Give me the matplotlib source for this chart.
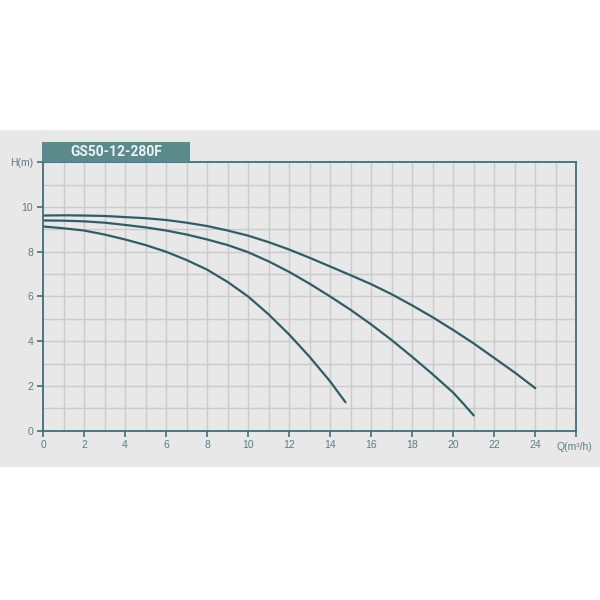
import matplotlib
matplotlib.use('agg')
import matplotlib.pyplot as plt
from matplotlib.patches import Rectangle

# 读图得到的曲线数据 Q(m3/h) - H(m)
q_top = [0, 1, 2, 3, 4, 5, 6, 7, 8, 9, 10, 11, 12, 13, 14, 15, 16, 17, 18, 19, 20, 21, 22, 23, 24]
h_top = [9.62, 9.63, 9.62, 9.6, 9.55, 9.5, 9.42, 9.3, 9.15, 8.95, 8.72, 8.43, 8.1, 7.73, 7.34,
         6.95, 6.55, 6.1, 5.6, 5.07, 4.5, 3.9, 3.25, 2.6, 1.9]

q_mid = [0, 1, 2, 3, 4, 5, 6, 7, 8, 9, 10, 11, 12, 13, 14, 15, 16, 17, 18, 19, 20, 20.5, 21]
h_mid = [9.40, 9.39, 9.36, 9.3, 9.2, 9.09, 8.95, 8.77, 8.55, 8.3, 7.98, 7.57, 7.1, 6.57, 6.0,
         5.4, 4.75, 4.05, 3.3, 2.52, 1.7, 1.2, 0.68]

q_low = [0, 1, 2, 3, 4, 5, 6, 7, 8, 9, 10, 11, 12, 13, 14, 14.4, 14.75]
h_low = [9.13, 9.05, 8.95, 8.77, 8.55, 8.3, 8.0, 7.63, 7.2, 6.65, 6.0, 5.2, 4.3, 3.3, 2.2, 1.7, 1.27]

x_ticks = [0, 2, 4, 6, 8, 10, 12, 14, 16, 18, 20, 22, 24, 26]
x_labels = ['0', '2', '4', '6', '8', '10', '12', '14', '16', '18', '20', '22', '24', '']
y_ticks = [0, 2, 4, 6, 8, 10, 12]
y_labels = ['0', '2', '4', '6', '8', '10', 'H(m)']
title = 'GS50-12-280F'

teal = '#3f6f77'
curve_c = '#2f5d65'
label_c = '#5b7d84'
grid_c = '#cbcbcb'
bg = '#e8e8e8'

plt.rcParams['font.family'] = ['Liberation Sans', 'DejaVu Sans']

fig = plt.figure(figsize=(6, 6), dpi=100)
fig.patch.set_facecolor('white')
# 灰色背景带
fig.patches.append(Rectangle((0, 0.222), 1, 0.561, transform=fig.transFigure,
                             facecolor=bg, edgecolor='none', zorder=-1))

ax = fig.add_axes([0.0717, 0.2822, 0.8888, 0.4473])
ax.set_zorder(1)
ax.set_facecolor(bg)
ax.set_xlim(0, 26)
ax.set_ylim(0, 12)

# 网格 1x1
for gx in range(1, 26):
    ax.axvline(gx, color=grid_c, linewidth=1.0, zorder=0)
for gy in range(1, 12):
    ax.axhline(gy, color=grid_c, linewidth=1.0, zorder=0)

ax.set_xticks(x_ticks)
ax.set_xticklabels(x_labels)
ax.set_yticks(y_ticks)
ax.set_yticklabels(y_labels)
ax.tick_params(direction='out', length=4, width=1.2, color=teal,
               labelcolor=label_c, labelsize=7.5, pad=3)
ax.text(25.9, -0.5, 'Q(m³/h)', ha='center', va='top', fontsize=7.5, color=label_c)

for s in ax.spines.values():
    s.set_color(teal)
    s.set_linewidth(1.3)

ax.plot(q_top, h_top, color=curve_c, linewidth=1.6, solid_capstyle='round')
ax.plot(q_mid, h_mid, color=curve_c, linewidth=1.6, solid_capstyle='round')
ax.plot(q_low, h_low, color=curve_c, linewidth=1.6, solid_capstyle='round')

# 标题框
ax.add_patch(Rectangle((-0.05, 12), 7.2, 0.92, facecolor='#5a8a8c',
                       edgecolor='none', clip_on=False, zorder=3))
ax.text(3.55, 12.46, title, ha='center', va='center', color='#eef3f3',
        fontsize=10, fontweight='bold', family=['Roboto', 'DejaVu Sans'], zorder=4)

fig.savefig('out.png', dpi=100, facecolor='white')
